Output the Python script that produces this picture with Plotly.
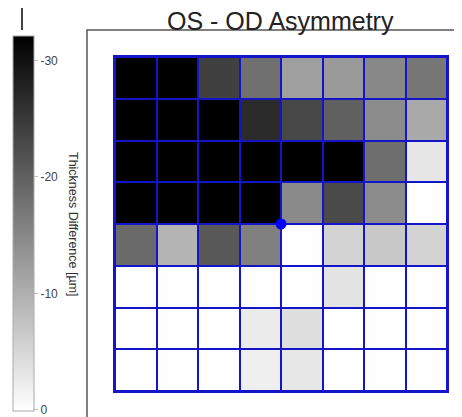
import plotly.graph_objects as go

# Thickness difference (OS - OD) in µm, 8x8 grid, top row first
row1 = [-35, -35, -24.0, -18.0, -12.0, -12.7, -14.9, -17.1]
row2 = [-35, -35, -35, -26.7, -23.0, -20.0, -14.4, -10.7]
row3 = [-35, -35, -35, -35, -35, -35, -18.2, -3.1]
row4 = [-35, -35, -35, -35, -14.7, -22.7, -14.4, 0.0]
row5 = [-18.7, -9.4, -21.0, -15.9, 0.0, -5.4, -6.9, -5.4]
row6 = [0.0, 0.0, 0.0, 0.0, 0.0, -3.4, 0.0, 0.0]
row7 = [0.0, 0.0, 0.0, -2.4, -4.1, 0.0, 0.0, 0.0]
row8 = [0.0, 0.0, 0.0, -1.9, -2.9, 0.0, 0.0, 0.0]
rows = [row1, row2, row3, row4, row5, row6, row7, row8]

cb_tick_values = [0, -10, -20, -30]
cb_tick_labels = ["0", "-10", "-20", "-30"]
title_text = "OS - OD Asymmetry"
cb_title = "Thickness Difference [µm]"

n = len(rows)
cols = list(range(n))
rws = list(range(n))
# colorbar shows more negative values at the top -> plot magnitude
z = [[-v for v in r] for r in rows]
center = (n - 1) / 2.0

# page body has an 8px default margin; work in viewport pixels and convert
OFF = 8
VW, VH = 462, 417
W, H = VW - OFF, VH - OFF


def px(x):
    return (x - OFF) / W


def py(y):
    return 1 - (y - OFF) / H


BLUE = "#1414c8"
FONT = "Liberation Sans, Arial, sans-serif"

fig = go.Figure()
fig.add_trace(go.Heatmap(
    z=z, x=cols, y=rws,
    xgap=2, ygap=2,
    colorscale=[[0, "#ffffff"], [1, "#000000"]],
    zmin=-0.1, zmax=32.1,
    hoverinfo="skip",
    colorbar=dict(
        thickness=21, thicknessmode="pixels",
        len=375, lenmode="pixels",
        x=px(13), xanchor="left", xpad=0,
        y=py(36), yanchor="top", ypad=0,
        outlinewidth=1, outlinecolor="#aaaaaa",
        tickvals=[-v for v in cb_tick_values], ticktext=cb_tick_labels,
        ticks="outside", ticklen=4, tickcolor="#bbbbbb",
        ticklabeloverflow="allow",
        tickfont=dict(size=12, color="#444444", family=FONT),
    ),
))
fig.add_trace(go.Scatter(
    x=[center], y=[center], mode="markers",
    marker=dict(size=11, color="#0000ff"),
    cliponaxis=False, hoverinfo="skip", showlegend=False,
))

fig.update_layout(
    width=W, height=H,
    margin=dict(l=0, r=0, t=0, b=0),
    paper_bgcolor="white",
    plot_bgcolor=BLUE,
    showlegend=False,
    xaxis=dict(domain=[px(115), px(447)], range=[-0.5, n - 0.5],
               showticklabels=False, showgrid=False, zeroline=False,
               showline=True, mirror=True, linecolor=BLUE, linewidth=2, ticks=""),
    yaxis=dict(domain=[py(391), py(57)], range=[n - 0.5, -0.5],
               showticklabels=False, showgrid=False, zeroline=False,
               showline=True, mirror=True, linecolor=BLUE, linewidth=2, ticks=""),
    annotations=[
        dict(text=title_text, x=px(280), y=py(21), xref="paper", yref="paper",
             xanchor="center", yanchor="middle", showarrow=False,
             font=dict(size=25, color="#222222", family=FONT)),
        dict(text=cb_title, x=px(73), y=py(224), xref="paper", yref="paper",
             xanchor="center", yanchor="middle", showarrow=False, textangle=90,
             font=dict(size=12.5, color="#333333", family=FONT)),
    ],
    shapes=[
        dict(type="rect", xref="paper", yref="paper",
             x0=px(87), x1=1.05, y0=-0.05, y1=py(30),
             line=dict(color="#555555", width=1.5), fillcolor="rgba(0,0,0,0)", layer="below"),
        dict(type="line", xref="paper", yref="paper",
             x0=px(22), x1=px(22), y0=py(30), y1=1.05,
             line=dict(color="#444444", width=2)),
    ],
)

fig.write_html("out.html")
